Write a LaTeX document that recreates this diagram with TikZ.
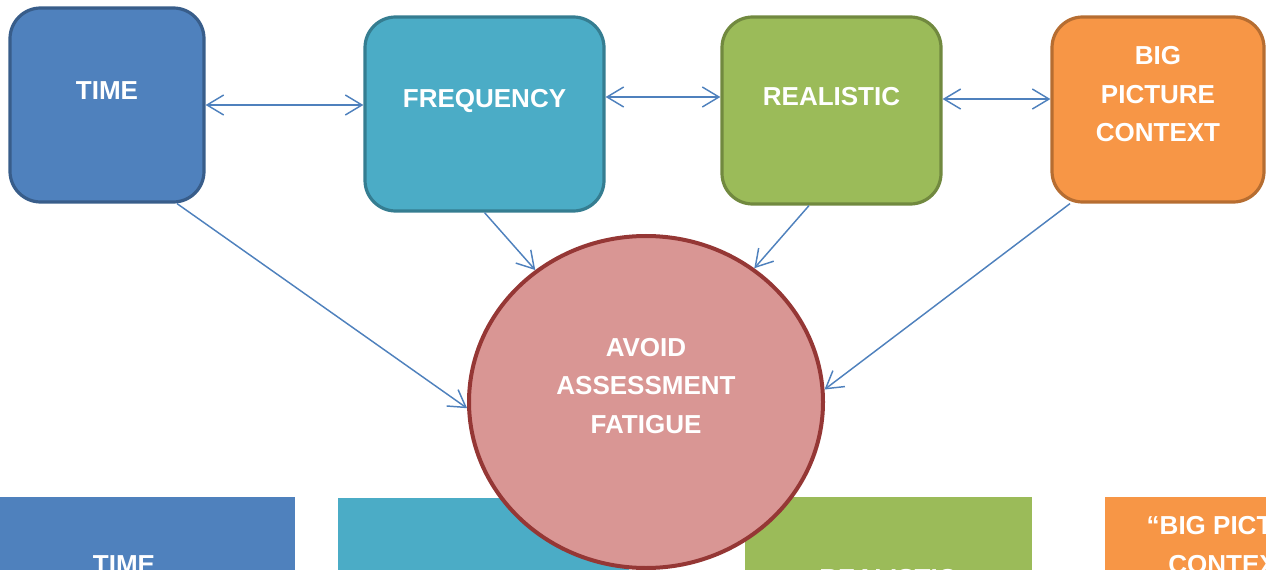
\documentclass[tikz,border=0pt]{standalone}
\usepackage{fontspec}
\setmainfont{Liberation Sans}
\usetikzlibrary{arrows.meta, shapes.geometric}
\definecolor{timefill}{HTML}{4F81BD}
\definecolor{timeline}{HTML}{385D8A}
\definecolor{freqfill}{HTML}{4BACC6}
\definecolor{freqline}{HTML}{357D91}
\definecolor{realfill}{HTML}{9BBB59}
\definecolor{realline}{HTML}{71893F}
\definecolor{bigfill}{HTML}{F79646}
\definecolor{bigline}{HTML}{B66D31}
\definecolor{avoidfill}{HTML}{D99694}
\definecolor{avoidline}{HTML}{953735}
\definecolor{linkblue}{HTML}{4F81BD}

\begin{document}
\begin{tikzpicture}[
        x=0.75pt, y=-0.75pt,
        >={Straight Barb[length=12.5pt, width=15pt]},
        every node/.style={align=center, text=white, inner sep=1pt,
            font=\fontsize{19.5}{29}\selectfont\bfseries},
        topbox/.style={draw=#1line, fill=#1fill, line width=2.4pt,
            rounded corners=23pt, minimum height=145.5pt},
        lowbox/.style={draw=#1fill, fill=#1fill, minimum width=217.5pt,
            minimum height=106.5pt},
        link/.style={draw=linkblue, line width=1.1pt}
    ]
      \clip (0,0) rectangle (1266,570);

      \node[lowbox=time, minimum width=255pt] (time-low) at (124,568) {};
      \node[lowbox=freq] (freq-low) at (483,569) {};
      \node[lowbox=real, minimum width=214.5pt] (real-low) at (888,568) {};
      \node[lowbox=big] (big-low) at (1250,568) {};
      \node at (124,565) (time-lowtxt) {TIME};
      \node at (888,579) (real-lowtxt) {REALISTIC};
      \node at (1237,545) (big-lowtxt) {``BIG PICTURE\\CONTEXT''};

      \node[topbox=time, minimum width=145.5pt] (time) at (107,105) {};
      \node[topbox=freq, minimum width=179.25pt] (freq) at (484.5,114) {};
      \node[topbox=real, minimum width=164.25pt, minimum height=140.25pt] (real) at (831.5,110.5) {};
      \node[topbox=big, minimum width=159pt, minimum height=138.75pt] (big) at (1158,109.5) {};
      \node at ([yshift=10.5pt]time.center) (time-txt) {TIME};
      \node at ([yshift=10pt]freq.center) (freq-txt) {FREQUENCY};
      \node at ([yshift=10.5pt]real.center) (real-txt) {REALISTIC};
      \node at ([yshift=11.5pt]big.center) (big-txt) {BIG\\PICTURE\\CONTEXT};

      \node[ellipse, draw=avoidline, fill=avoidfill, line width=3pt,
            minimum width=265.5pt, minimum height=249pt] (avoid) at (646,402) {};
      \node at ([yshift=12pt]avoid.center) (avoid-txt) {AVOID\\ASSESSMENT\\FATIGUE};

      \draw [link, <->] (time.east) -- (time.east -| freq.west);
      \draw [link, <->] ([yshift=12.75pt]freq.east) -- ([yshift=12.75pt]freq.east -| real.west);
      \draw [link, <->] ([yshift=8.6pt]real.east) -- ([yshift=8.6pt]real.east -| big.west);
      \draw [link, ->] ([xshift=52.5pt]time.south) -- (avoid.182);
      \draw [link, ->] (freq.south) -- (avoid.130);
      \draw [link, ->] ([xshift=-16.9pt]real.south) -- (avoid.51);
      \draw [link, ->] ([xshift=-66pt]big.south) -- (avoid.4);
    \end{tikzpicture}
\end{document}
